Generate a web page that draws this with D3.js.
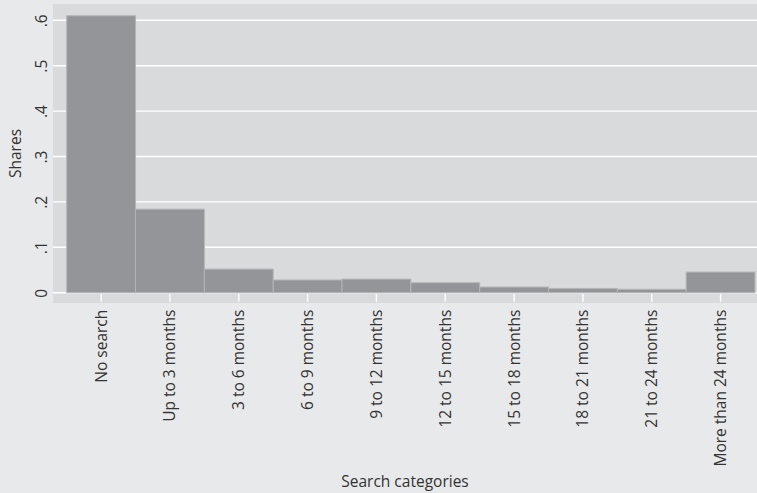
<!DOCTYPE html>
<html>
<head>
<meta charset="utf-8">
<script src="https://cdn.jsdelivr.net/npm/d3@7"></script>
<style>
  html, body { margin: 0; padding: 0; background: #e8e9ea; }
  svg { display: block; }
  text { font-family: "Open Sans", "DejaVu Sans", sans-serif; fill: #333; }
</style>
</head>
<body>
<svg id="chart" width="757" height="493"></svg>
<script>
const categories = ["No search", "Up to 3 months", "3 to 6 months", "6 to 9 months", "9 to 12 months",
  "12 to 15 months", "15 to 18 months", "18 to 21 months", "21 to 24 months", "More than 24 months"];
const shares = [0.610, 0.184, 0.052, 0.028, 0.030, 0.022, 0.0125, 0.0095, 0.0075, 0.0455];
const yTicks = [0, 0.1, 0.2, 0.3, 0.4, 0.5, 0.6];
const yTickLabels = ["0", ".1", ".2", ".3", ".4", ".5", ".6"];
const xTitle = "Search categories";
const yTitle = "Shares";

const W = 757, H = 493;
const FS = "15.5px";
const plot = { left: 53, right: 757, top: 4, bottom: 303 };
const svg = d3.select("#chart");

svg.append("rect").attr("x", 0).attr("y", 0).attr("width", W).attr("height", H).attr("fill", "#e8e9ea");
svg.append("rect").attr("x", plot.left).attr("y", plot.top)
  .attr("width", plot.right - plot.left).attr("height", plot.bottom - plot.top).attr("fill", "#d9dadc");

const x = d3.scaleBand().domain(categories).range([66.7, 755]).paddingInner(0).paddingOuter(0);
const y = d3.scaleLinear().domain([0, 0.6]).range([292.7, 20.3]);

// gridlines
svg.append("g").selectAll("line").data(yTicks).join("line")
  .attr("x1", plot.left).attr("x2", plot.right)
  .attr("y1", d => y(d)).attr("y2", d => y(d))
  .attr("stroke", "#ffffff").attr("stroke-width", 1.4);

// y axis
const yAxis = d3.axisLeft(y).tickValues(yTicks).tickFormat((d, i) => yTickLabels[i]).tickSize(0);
const yg = svg.append("g").attr("transform", `translate(${plot.left},0)`).call(yAxis);
yg.select(".domain").remove();
yg.selectAll(".tick text")
  .attr("x", null).attr("dy", "0")
  .attr("transform", "translate(-6,0) rotate(-90)")
  .attr("text-anchor", "middle")
  .style("font-size", FS).style("font-family", "'Open Sans', 'DejaVu Sans', sans-serif").attr("fill", "#333");

// bars
svg.append("g").selectAll("rect").data(categories).join("rect")
  .attr("x", d => x(d)).attr("width", x.bandwidth())
  .attr("y", (d, i) => y(shares[i]))
  .attr("height", (d, i) => y(0) - y(shares[i]))
  .attr("fill", "#939598").attr("stroke", "#b3b5b7").attr("stroke-width", 1);

// x axis
const xAxis = d3.axisBottom(x).tickSize(8).tickSizeOuter(0);
const xg = svg.append("g").attr("transform", `translate(0,${y(0)+1})`).call(xAxis);
xg.select(".domain").remove();
xg.selectAll(".tick line").attr("stroke", "#ffffff").attr("stroke-width", 1.4);
xg.selectAll(".tick text")
  .attr("y", null).attr("dy", null)
  .attr("transform", "translate(5.5,16) rotate(-90)")
  .attr("text-anchor", "end")
  .style("font-size", FS).style("font-family", "'Open Sans', 'DejaVu Sans', sans-serif").attr("fill", "#333");

// titles
svg.append("text").attr("x", (plot.left + plot.right) / 2).attr("y", 487)
  .attr("text-anchor", "middle").style("font-size", FS).text(xTitle);
svg.append("text").attr("transform", `translate(21,${(plot.top + plot.bottom) / 2}) rotate(-90)`)
  .attr("text-anchor", "middle").style("font-size", FS).text(yTitle);
</script>
</body>
</html>
